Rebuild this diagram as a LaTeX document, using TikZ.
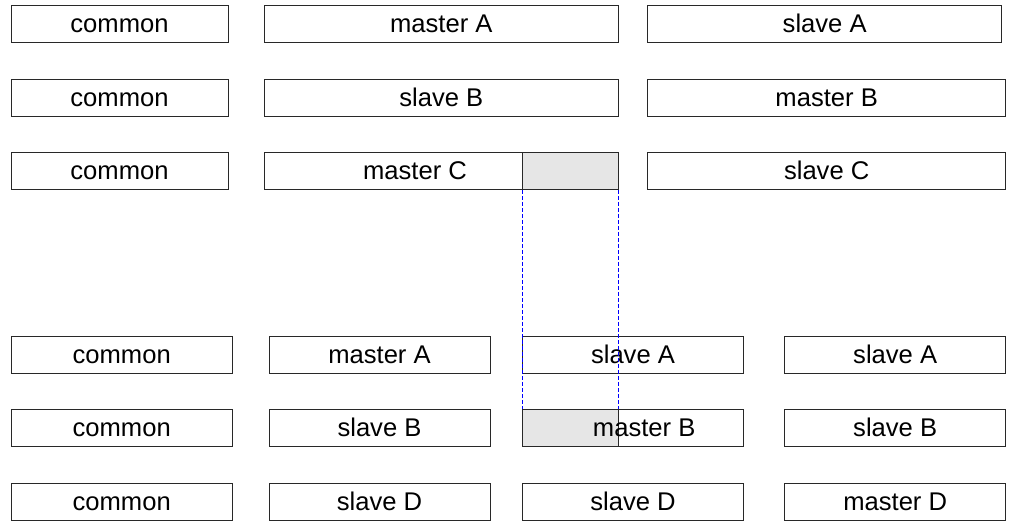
\documentclass[tikz,border=0pt]{standalone}
\usepackage{fontspec}
\setmainfont{Liberation Sans}
\definecolor{shade}{RGB}{230,230,230}
\definecolor{edge}{RGB}{40,40,40}
\tikzset{
  box/.style={draw=edge, line width=0.8pt, rectangle, inner sep=0pt,
    minimum height=37pt, text height=17pt, text depth=0pt,
    font=\fontsize{25.6}{30}\selectfont},
  shadebox/.style={draw=edge, fill=shade, line width=0.8pt, rectangle, inner sep=0pt,
    minimum height=37pt, minimum width=95.6pt},
  guide/.style={draw=blue, line width=0.8pt, dash pattern=on 4pt off 2pt}
}
\begin{document}
\begin{tikzpicture}[x=1pt,y=-1pt]
\useasboundingbox (0,0) rectangle (1010,522);
% shaded parts (drawn first, below the text)
\node[shadebox] (gC) at (570.5,171) {};
\node[shadebox] (gB) at (570.5,428.3) {};
% top block
\node[box, minimum width=217pt] (c1) at (119.5,23.8) {common};
\node[box, minimum width=354pt] (mA) at (441.3,23.8) {master A};
\node[box, minimum width=354pt] (sA) at (824.7,23.8) {slave A};
\node[box, minimum width=217pt] (c2) at (119.5,97.7) {common};
\node[box, minimum width=354pt] (sB) at (441.3,97.7) {slave B};
\node[box, minimum width=358pt] (mB) at (826.7,97.7) {master B};
\node[box, minimum width=217pt] (c3) at (119.5,171) {common};
\node[box, minimum width=354pt] (mC) at (441.3,171) {master C\kern52.6pt\relax};
\node[box, minimum width=358pt] (sC) at (826.7,171) {slave C};
% bottom block
\node[box, minimum width=221.3pt] (d1) at (121.7,355) {common};
\node[box, minimum width=221pt] (d2) at (379.5,355) {master A};
\node[box, minimum width=220.6pt] (d3) at (633,355) {slave A};
\node[box, minimum width=221pt] (d4) at (895.2,355) {slave A};
\node[box, minimum width=221.3pt] (e1) at (121.7,428.3) {common};
\node[box, minimum width=221pt] (e2) at (379.5,428.3) {slave B};
\node[box, minimum width=220.6pt] (e3) at (633,428.3) {\hspace{22.4pt}master B};
\node[box, minimum width=221pt] (e4) at (895.2,428.3) {slave B};
\node[box, minimum width=221.3pt] (f1) at (121.7,501.7) {common};
\node[box, minimum width=221pt] (f2) at (379.5,501.7) {slave D};
\node[box, minimum width=220.6pt] (f3) at (633,501.7) {slave D};
\node[box, minimum width=221pt] (f4) at (895.2,501.7) {master D};
% dashed guides
\draw[guide] (gC.south west) -- (gB.north west);
\draw[guide] (gC.south east) -- (gB.north east);
\end{tikzpicture}
\end{document}
